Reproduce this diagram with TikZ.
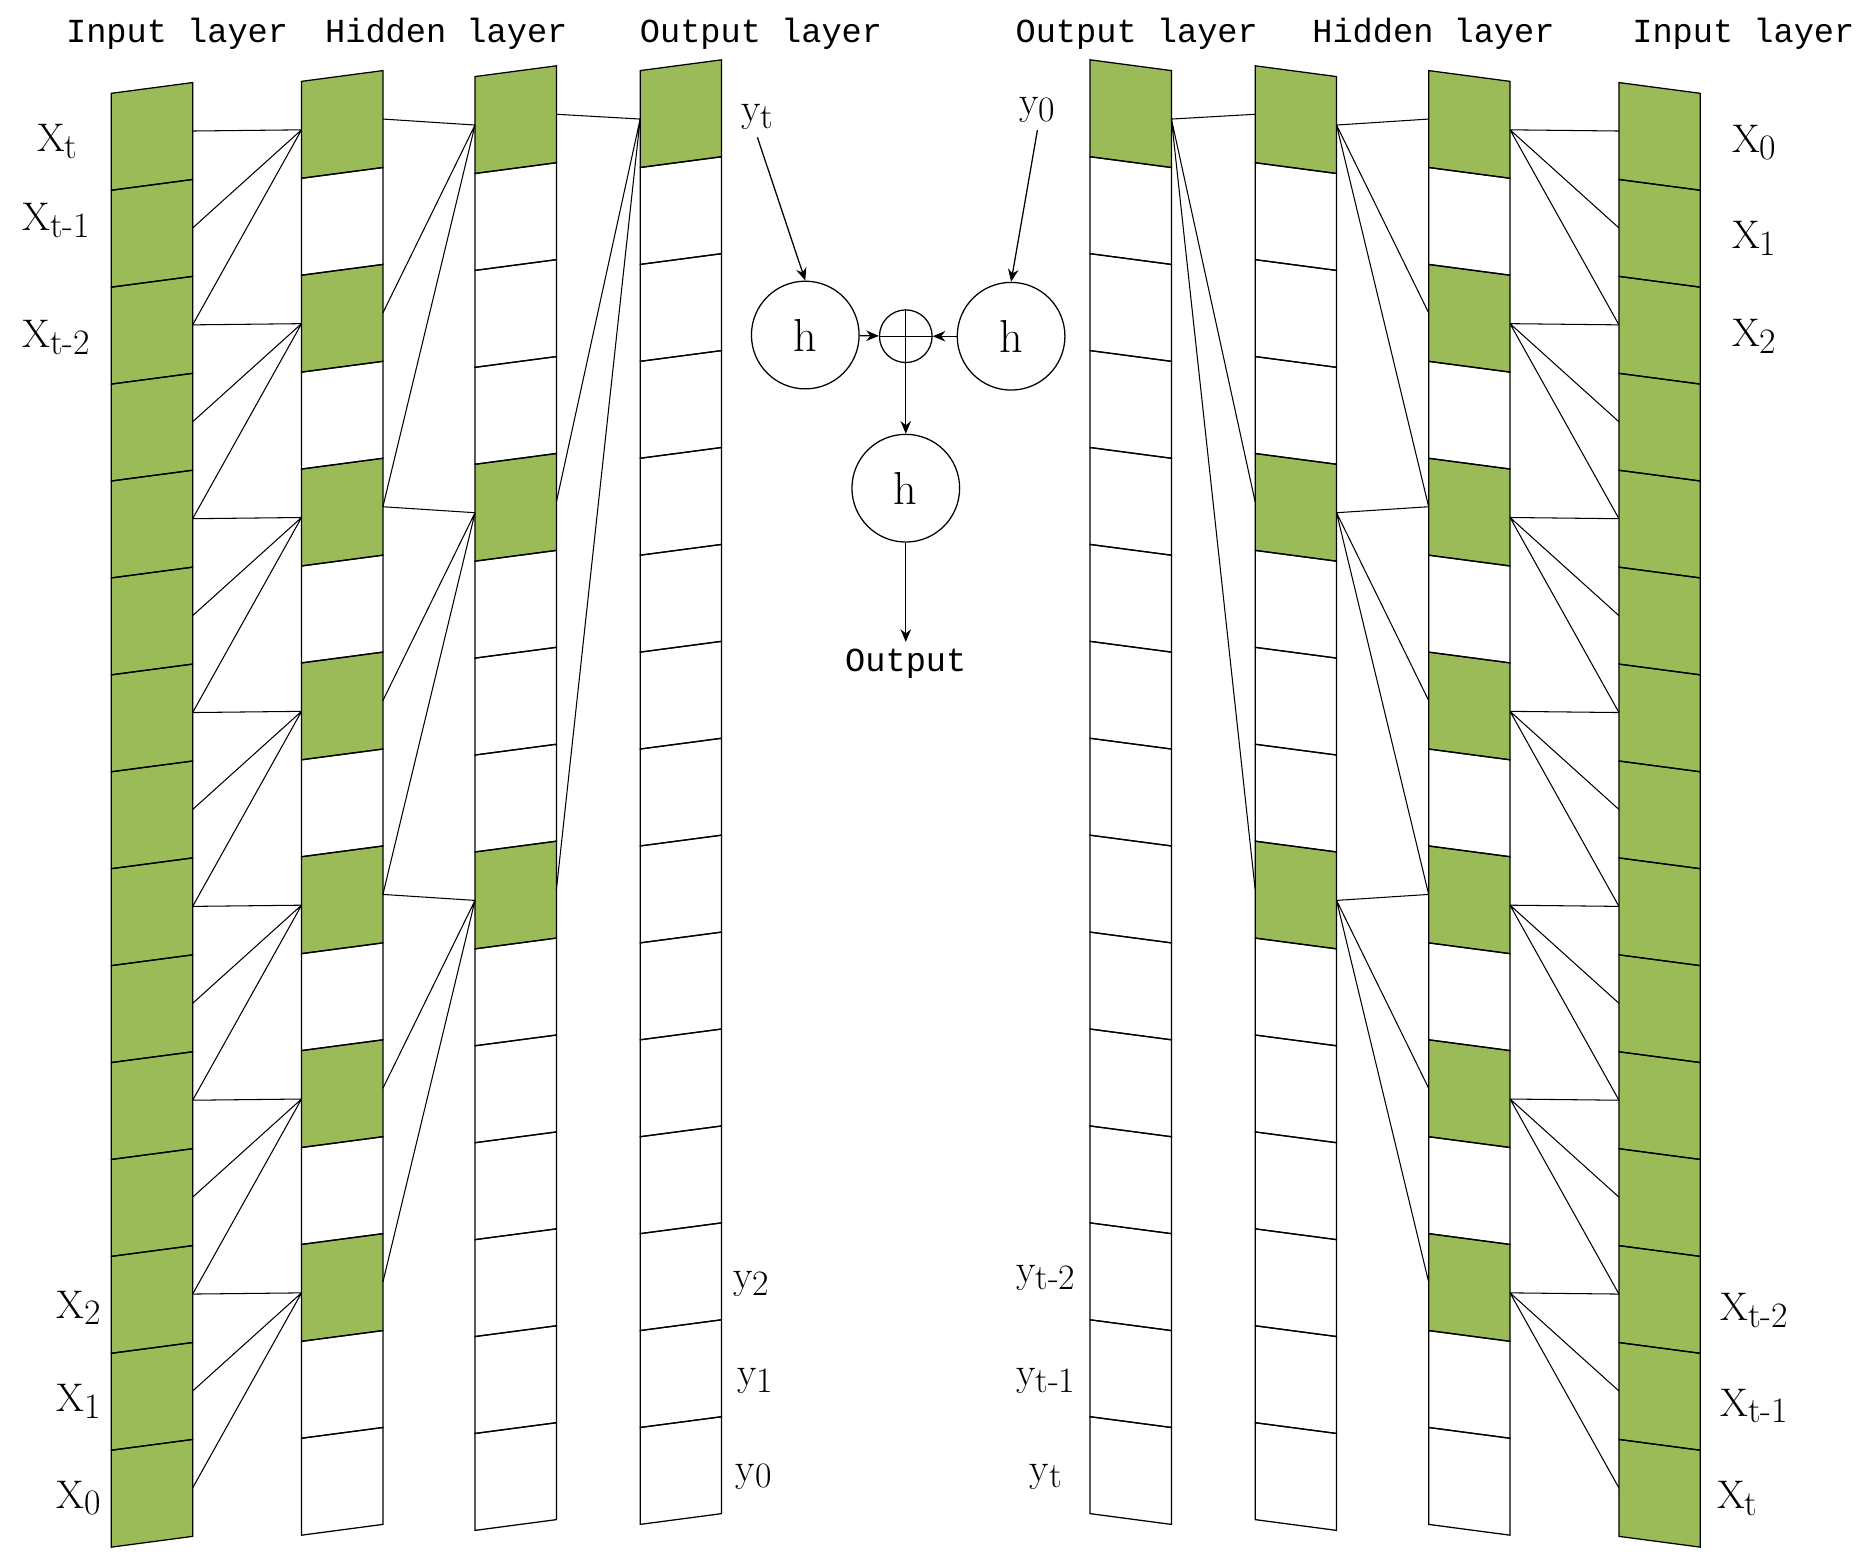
\documentclass[tikz,border=0pt]{standalone}
\usepackage{fontspec}
\newfontfamily\mono{Liberation Mono}
\usetikzlibrary{arrows.meta}
\definecolor{cellgreen}{HTML}{9BBB59}
\newcommand\sbs[1]{\raisebox{-0.4ex}{\fontsize{17}{17}\selectfont #1}}
\newcommand\mylayer[5]{%
 \pgfmathsetmacro\lo{-4.5*(1-#4)}%
 \pgfmathsetmacro\ro{-4.5*(1+#4)}%
 \foreach \i in {#5}{\fill[cellgreen] (#2,{#3+\lo+(\i-1)*81}) -- ({#2+68},{#3+\ro+(\i-1)*81}) -- ({#2+68},{#3+\ro+\i*81}) -- (#2,{#3+\lo+\i*81}) -- cycle;}
 \foreach \i in {1,...,15}{%
   \draw[cellline] (#2,{#3+\lo+(\i-1)*81}) -- ({#2+68},{#3+\ro+(\i-1)*81}) -- ({#2+68},{#3+\ro+\i*81}) -- (#2,{#3+\lo+\i*81}) -- cycle;
   \coordinate (#1-\i-l) at (#2,{#3+\lo+(\i-0.5)*81});
   \coordinate (#1-\i-r) at ({#2+68},{#3+\ro+(\i-0.5)*81});
 }}
\tikzset{cellline/.style={draw=black,line width=0.6pt},
 conn/.style={draw=black,line width=0.5pt},
 hd/.style={font=\mono\fontsize{16}{18}\selectfont},
 lb/.style={font=\fontsize{19}{20}\selectfont},
 circ/.style={circle,draw,line width=0.6pt,minimum size=90*0.02cm,inner sep=0pt,font=\fontsize{22}{24}\selectfont},
 arr/.style={-{Stealth[length=6pt,width=5pt]},line width=0.6pt}}
\begin{document}
\begin{tikzpicture}[x=0.02cm,y=-0.02cm]
\useasboundingbox (0,0) rectangle (1562,1308);
% left side
\mylayer{IL}{93}{78}{1}{1,...,15}
\mylayer{HA}{252}{68}{1}{1,3,5,7,9,11,13}
\mylayer{HB}{397}{64}{1}{1,5,9}
\mylayer{OL}{535}{59}{1}{1}
% right side
\mylayer{RIL}{1353}{78}{-1}{1,...,15}
\mylayer{RHA}{1194}{68}{-1}{1,3,5,7,9,11,13}
\mylayer{RHB}{1049}{64}{-1}{1,5,9}
\mylayer{ROL}{911}{59}{-1}{1}
% connections
\foreach \k in {1,3,...,13}{
  \pgfmathtruncatemacro\ka{\k+1}\pgfmathtruncatemacro\kb{\k+2}
  \draw[conn] (HA-\k-l) -- (IL-\k-r) (HA-\k-l) -- (IL-\ka-r) (HA-\k-l) -- (IL-\kb-r);
  \draw[conn] (RHA-\k-r) -- (RIL-\k-l) (RHA-\k-r) -- (RIL-\ka-l) (RHA-\k-r) -- (RIL-\kb-l);
}
\foreach \k in {1,5,9}{
  \pgfmathtruncatemacro\ka{\k+2}\pgfmathtruncatemacro\kb{\k+4}
  \draw[conn] (HB-\k-l) -- (HA-\k-r) (HB-\k-l) -- (HA-\ka-r) (HB-\k-l) -- (HA-\kb-r);
  \draw[conn] (RHB-\k-r) -- (RHA-\k-l) (RHB-\k-r) -- (RHA-\ka-l) (RHB-\k-r) -- (RHA-\kb-l);
}
\draw[conn] (OL-1-l) -- (HB-1-r) (OL-1-l) -- (HB-5-r) (OL-1-l) -- (HB-9-r);
\draw[conn] (ROL-1-r) -- (RHB-1-l) (ROL-1-r) -- (RHB-5-l) (ROL-1-r) -- (RHB-9-l);
% headers
\node[hd] (h1) at (148,28) {Input layer};
\node[hd] (h2) at (373,28) {Hidden layer};
\node[hd] (h3) at (636,28) {Output layer};
\node[hd] (h4) at (950,28) {Output layer};
\node[hd] (h5) at (1198,28) {Hidden layer};
\node[hd] (h6) at (1457,28) {Input layer};
% labels left
\node[lb] (lxt) at (48,118) {X\sbs{t}};
\node[lb] (lxt1) at (47,184) {X\sbs{t-1}};
\node[lb] (lxt2) at (47,282) {X\sbs{t-2}};
\node[lb] (lx2) at (66,1093) {X\sbs{2}};
\node[lb] (lx1) at (66,1171) {X\sbs{1}};
\node[lb] (lx0) at (66,1252) {X\sbs{0}};
\node[lb] (lyt) at (633,98) {y\sbs{t}};
\node[lb] (ly2) at (628,1073) {y\sbs{2}};
\node[lb] (ly1) at (631,1154) {y\sbs{1}};
\node[lb] (ly0) at (630,1234) {y\sbs{0}};
% labels right
\node[lb] (ry0) at (867,92) {y\sbs{0}};
\node[lb] (ryt2) at (874,1068) {y\sbs{t-2}};
\node[lb] (ryt1) at (874,1154) {y\sbs{t-1}};
\node[lb] (ryt) at (874,1234) {y\sbs{t}};
\node[lb] (rx0) at (1466,119) {X\sbs{0}};
\node[lb] (rx1) at (1466,199) {X\sbs{1}};
\node[lb] (rx2) at (1466,281) {X\sbs{2}};
\node[lb] (rxt2) at (1466,1095) {X\sbs{t-2}};
\node[lb] (rxt1) at (1466,1175) {X\sbs{t-1}};
\node[lb] (rxt) at (1452,1252) {X\sbs{t}};
% centre
\node[circ] (hl) at (673,280) {h};
\node[circ] (hr) at (845,281) {h};
\node[circle,draw,line width=0.6pt,minimum size=44*0.02cm,inner sep=0pt] (op) at (757,281) {};
\draw[line width=0.6pt] (op.north) -- (op.south) (op.west) -- (op.east);
\node[circ] (hb) at (757,408) {h};
\node[hd] (out) at (757,555) {Output};
\draw[arr] (lyt.south) -- (hl.north);
\draw[arr] (ry0.south) -- (hr.north);
\draw[arr] (hl) -- (op);
\draw[arr] (hr) -- (op);
\draw[arr] (op) -- (hb);
\draw[arr] (hb) -- (out.north);
\end{tikzpicture}
\end{document}
